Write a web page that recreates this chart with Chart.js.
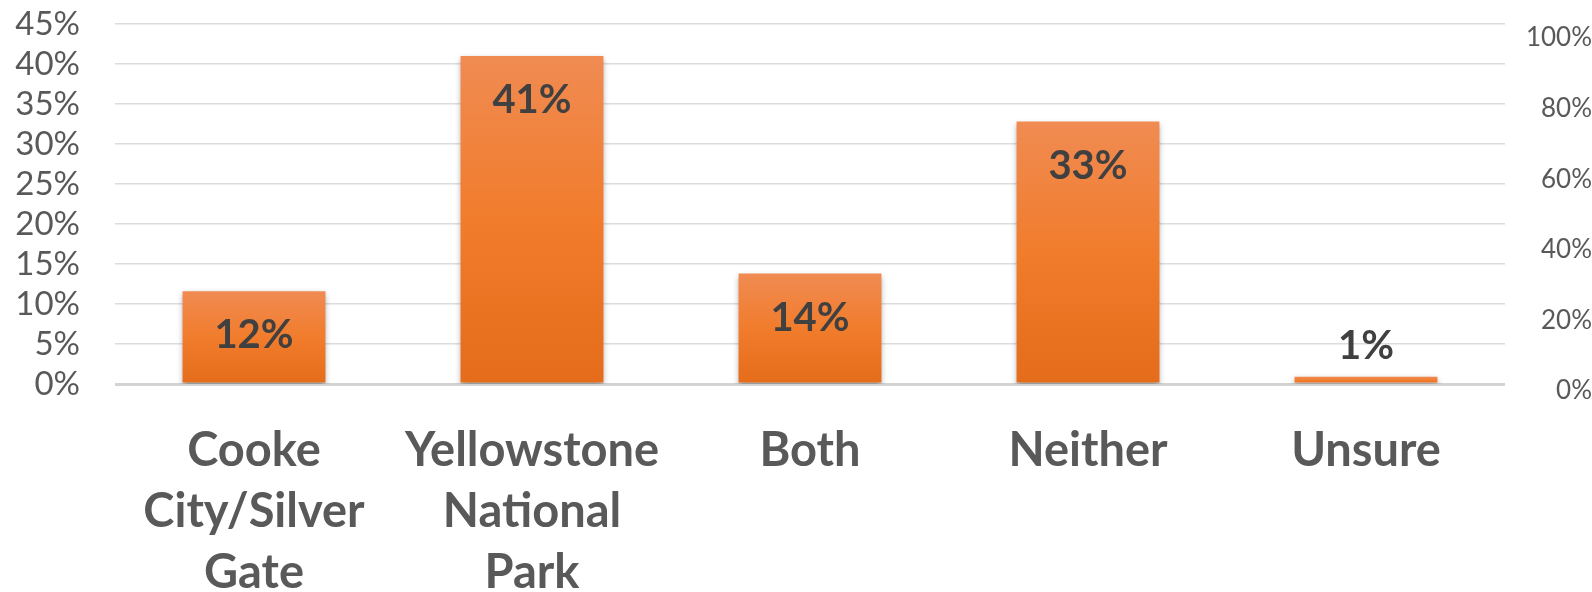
<!DOCTYPE html>
<html lang="en">
<head>
  <meta charset="UTF-8">
  <title>Cooke City / Yellowstone</title>
  <script src="https://cdn.jsdelivr.net/npm/chart.js@4.4.0/dist/chart.umd.min.js"></script>
  <style>
    html, body { margin: 0; padding: 0; background: #fff; }
    #wrap { width: 1592px; height: 592px; }
  </style>
</head>
<body>
  <div id="wrap"><canvas id="myChart"></canvas></div>
  <script>
    // data
    const categories = [['Cooke', 'City/Silver', 'Gate'], ['Yellowstone', 'National', 'Park'], 'Both', 'Neither', 'Unsure'];
    const shares = [11.6, 41.0, 13.8, 32.8, 0.9];
    const shareLabels = ['12%', '41%', '14%', '33%', '1%'];
    const leftTicks = [0, 5, 10, 15, 20, 25, 30, 35, 40, 45];
    const rightTicks = [0, 20, 40, 60, 80, 100];

    const FONT = 'Lato, "Open Sans", sans-serif';

    // bar gradient, top lighter, bottom darker
    function barFill(context) {
      const chart = context.chart;
      const area = chart.chartArea;
      if (!area) return '#EE7A2E';
      const y = chart.scales.y;
      const top = y.getPixelForValue(context.raw);
      const bottom = y.getPixelForValue(0);
      const g = chart.ctx.createLinearGradient(0, top, 0, bottom);
      g.addColorStop(0, '#F08B52');
      g.addColorStop(0.5, '#F17C2C');
      g.addColorStop(1, '#E46C1A');
      return g;
    }

    // shadow under the bars
    const barShadow = {
      id: 'barShadow',
      beforeDatasetDraw(chart) {
        const ctx = chart.ctx;
        ctx.save();
        ctx.shadowColor = 'rgba(0,0,0,0.35)';
        ctx.shadowBlur = 6;
        ctx.shadowOffsetY = 3;
      },
      afterDatasetDraw(chart) {
        chart.ctx.restore();
      }
    };

    // value labels, inside end or above small bars
    const valueLabels = {
      id: 'valueLabels',
      afterDatasetsDraw(chart) {
        const ctx = chart.ctx;
        const meta = chart.getDatasetMeta(0);
        ctx.save();
        ctx.font = 'bold 40px ' + FONT;
        ctx.fillStyle = '#404040';
        ctx.textAlign = 'center';
        ctx.textBaseline = 'middle';
        meta.data.forEach(function (bar, i) {
          const h = bar.base - bar.y;
          const ty = h > 70 ? bar.y + 44 : bar.y - 31;
          ctx.fillText(shareLabels[i], bar.x, ty);
        });
        ctx.restore();
      }
    };

    const ctx = document.getElementById('myChart').getContext('2d');
    new Chart(ctx, {
      type: 'bar',
      data: {
        labels: categories,
        datasets: [{
          data: shares,
          backgroundColor: barFill,
          borderWidth: 0,
          categoryPercentage: 1,
          barPercentage: 0.514,
          yAxisID: 'y'
        }]
      },
      options: {
        responsive: true,
        maintainAspectRatio: false,
        animation: false,
        layout: { padding: { top: 24, left: 0, right: 0, bottom: 0 } },
        plugins: {
          legend: { display: false },
          tooltip: { enabled: false }
        },
        scales: {
          x: {
            grid: { display: false },
            border: { display: false },
            ticks: {
              color: '#595959',
              font: { family: FONT, size: 47, weight: 'bold', lineHeight: 1.3 },
              padding: 28,
              maxRotation: 0,
              autoSkip: false
            },
            afterFit(axis) { axis.height = 208; }
          },
          y: {
            position: 'left',
            min: 0,
            max: 45,
            afterBuildTicks(axis) { axis.ticks = leftTicks.map(v => ({ value: v })); },
            grid: {
              color: ctx => ctx.tick && ctx.tick.value === 0 ? '#D3D3D3' : '#DCDCDC',
              lineWidth: ctx => ctx.tick && ctx.tick.value === 0 ? 3 : 1.5,
              drawTicks: true,
              tickLength: 35,
              tickColor: 'rgba(0,0,0,0)'
            },
            border: { display: false },
            ticks: {
              color: '#595959',
              font: { family: FONT, size: 33, lineHeight: 1 },
              padding: 0,
              autoSkip: false,
              callback: v => v + '%'
            },
            afterFit(axis) { axis.width = 115; }
          },
          y2: {
            position: 'right',
            min: 0,
            max: 102,
            afterBuildTicks(axis) { axis.ticks = rightTicks.map(v => ({ value: v })); },
            grid: { display: false, drawTicks: false },
            border: { display: false },
            ticks: {
              color: '#595959',
              font: { family: FONT, size: 26, lineHeight: 1 },
              crossAlign: 'far',
              padding: 0,
              labelOffset: 7,
              autoSkip: false,
              callback: v => v + '%'
            },
            afterFit(axis) { axis.width = 87; }
          }
        }
      },
      plugins: [barShadow, valueLabels]
    });
  </script>
</body>
</html>
